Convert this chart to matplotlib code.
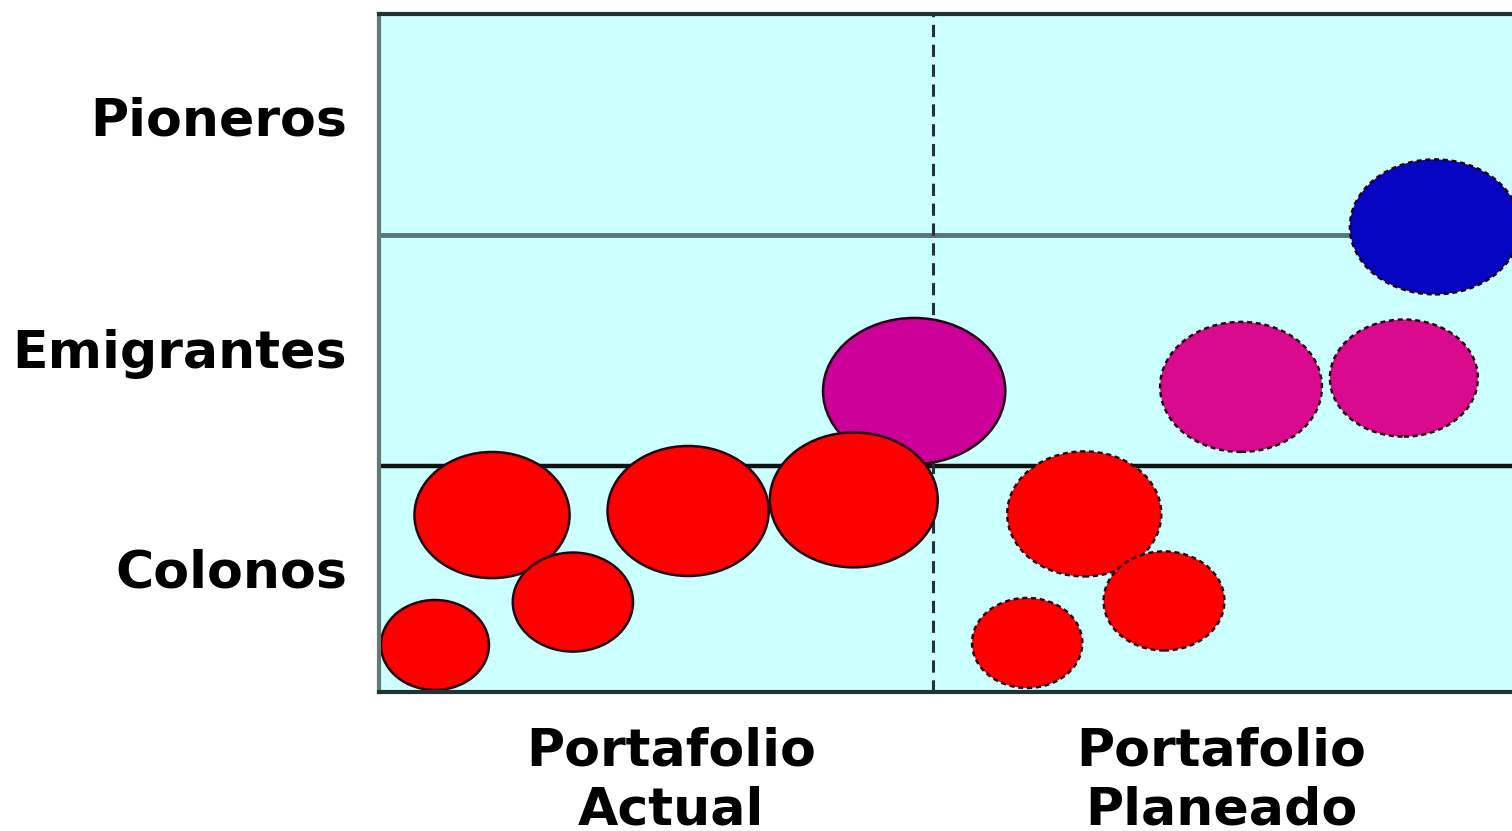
import matplotlib
matplotlib.use("Agg")
import matplotlib.pyplot as plt
from matplotlib.patches import Ellipse

# ---- data (data units: x in portfolio columns, y in category bands) ----
row_labels = ["Colonos", "Emigrantes", "Pioneros"]
row_ticks = [0.55, 1.52, 2.55]
col_labels = ["Portafolio\nActual", "Portafolio\nPlaneado"]
col_ticks = [0.527, 1.52]
band_edges = [1.0, 2.02]
divider_x = 1.0

# actual portfolio bubbles
act_x = [0.966, 0.204, 0.558, 0.350, 0.101, 0.857]
act_y = [1.332, 0.783, 0.801, 0.398, 0.208, 0.850]
act_w = [0.329, 0.280, 0.291, 0.217, 0.195, 0.303]
act_h = [0.646, 0.558, 0.575, 0.438, 0.398, 0.597]
act_kind = ["E", "C", "C", "C", "C", "C"]

# planned portfolio bubbles
pl_x = [1.906, 1.556, 1.850, 1.273, 1.417, 1.170]
pl_y = [2.058, 1.350, 1.389, 0.788, 0.403, 0.217]
pl_w = [0.307, 0.292, 0.267, 0.278, 0.218, 0.199]
pl_h = [0.597, 0.575, 0.518, 0.553, 0.438, 0.398]
pl_kind = ["P", "E", "E", "C", "C", "C"]

colors_act = {"C": "#FF0000", "E": "#CC0099", "P": "#0000CC"}
colors_pl = {"C": "#FF0000", "E": "#DA0A8E", "P": "#0505C2"}

fig = plt.figure(figsize=(15.12, 8.31), dpi=100)
x0, x1 = 0.0, 2.08
ax_left = 379 / 1512
ax_w = (x1 - x0) * 554 / 1512
ax_bottom = 1 - 692 / 831
ax_h = 678 / 831
ax = fig.add_axes([ax_left, ax_bottom, ax_w, ax_h])
ax.set_facecolor("#CCFFFF")
ax.set_xlim(x0, x1)
ax.set_ylim(0, 3)

for s in ax.spines.values():
    s.set_linewidth(3)
    s.set_color("#223333")
ax.spines["left"].set_color("#667777")

ax.axhline(band_edges[0], color="#111111", lw=3.2, zorder=1)
ax.axhline(band_edges[1], color="#557777", lw=3.5, zorder=1)
ax.axvline(divider_x, color="#223333", lw=2.2, ls=(0, (4, 2.5)), zorder=1)

for x, y, w, h, k in zip(act_x, act_y, act_w, act_h, act_kind):
    ax.add_patch(Ellipse((x, y), w, h, facecolor=colors_act[k],
                         edgecolor="#220011", lw=1.8, zorder=2))
for x, y, w, h, k in zip(pl_x, pl_y, pl_w, pl_h, pl_kind):
    ax.add_patch(Ellipse((x, y), w, h, facecolor=colors_pl[k],
                         edgecolor="#220011", lw=1.8, ls=(0, (2, 1.5)), zorder=2))

font = dict(family="DejaVu Sans", weight="bold", size=37.5)
ax.set_yticks(row_ticks)
ax.set_yticklabels(row_labels, **font)
ax.set_xticks(col_ticks)
ax.set_xticklabels(col_labels, linespacing=1.22, **font)
ax.tick_params(axis="both", length=0)
ax.tick_params(axis="y", pad=23)
ax.tick_params(axis="x", pad=25)

fig.savefig("out.png", dpi=100, facecolor="white")
